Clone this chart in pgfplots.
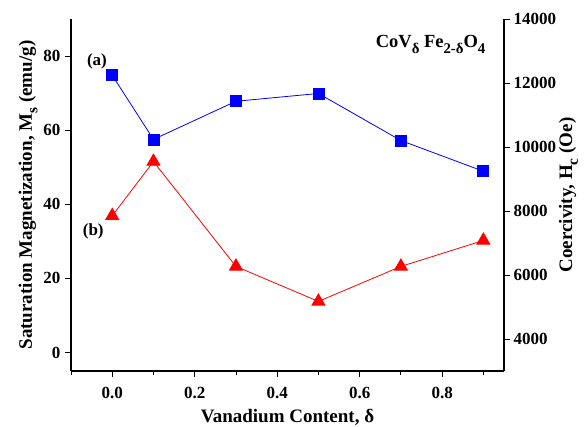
\documentclass[border=0pt]{standalone}
\usepackage{graphicx}
\usepackage{pgfplots}
\pgfplotsset{compat=1.18}
\usepackage{fontspec}
\setmainfont{Liberation Serif}
\newcommand\sub[1]{\raisebox{-0.3em}{\scalebox{0.8}{#1}}}
\begin{document}
\begin{tikzpicture}[font=\bfseries\fontsize{17}{20}\selectfont]
\useasboundingbox (-71pt,-56pt) rectangle (516pt,371pt);
\begin{axis}[
  at={(0,0)}, anchor=south west,
  scale only axis, width=433pt, height=352pt,
  xmin=-0.1, xmax=0.95, ymin=-5, ymax=90,
  axis y line*=left, axis x line*=bottom,
  xtick={0,0.2,0.4,0.6,0.8}, minor xtick={-0.1,0.1,0.3,0.5,0.7,0.9},
  ytick={0,20,40,60,80},
  xticklabel style={/pgf/number format/fixed,/pgf/number format/fixed zerofill,/pgf/number format/precision=1, yshift=-7pt},
  yticklabel style={xshift=-1pt},
  /pgf/number format/assume math mode=true,
  tick align=outside, tick pos=left,
  major tick length=6pt, minor tick length=4pt,
  every tick/.style={black, line width=0.9pt},
  axis line style={line width=1.1pt},
  ticklabel style={font=\bfseries\fontsize{17}{20}\selectfont},
  xlabel={Vanadium Content, δ},
  ylabel={Saturation Magnetization, M\sub{s} (emu/g)},
  label style={font=\bfseries\fontsize{19}{22}\selectfont},
  xlabel style={yshift=-3pt},
  ylabel style={yshift=-1pt},
  clip=false,
]
\addplot[blue, line width=0.8pt, mark=square*, mark size=5.5pt, mark options={solid}] coordinates {
  (0.0,74.8) (0.1,57.5) (0.3,67.8) (0.5,69.9) (0.7,57.2) (0.9,48.9)
};
\node[font=\bfseries\fontsize{17}{20}\selectfont] at (axis cs:-0.037,78.6) {(a)};
\node[font=\bfseries\fontsize{17}{20}\selectfont] at (axis cs:-0.046,32.7) {(b)};
\node[font=\bfseries\fontsize{18.5}{21}\selectfont, anchor=base] at (axis cs:0.772,82.2) {CoV\sub{δ} Fe\sub{2-δ}O\sub{4}};
\end{axis}
\begin{axis}[
  at={(0,0)}, anchor=south west,
  scale only axis, width=433pt, height=352pt,
  xmin=-0.1, xmax=0.95, ymin=3000, ymax=14000,
  axis y line*=right, axis x line=none,
  ytick={4000,6000,8000,10000,12000,14000},
  /pgf/number format/assume math mode=true,
  /pgf/number format/set thousands separator={},
  scaled y ticks=false,
  tick align=outside,
  major tick length=6pt,
  every tick/.style={black, line width=0.9pt},
  axis line style={line width=1.1pt},
  ticklabel style={font=\bfseries\fontsize{17}{20}\selectfont},
  ylabel={Coercivity, H\sub{c} (Oe)},
  label style={font=\bfseries\fontsize{19}{22}\selectfont},
  ylabel style={yshift=4pt},
]
\addplot[red, line width=0.8pt, mark=triangle*, mark size=7.5pt, mark options={solid}] coordinates {
  (0.0,7850) (0.1,9545) (0.3,6267) (0.5,5174) (0.7,6267) (0.9,7079)
};
\end{axis}
\end{tikzpicture}
\end{document}
